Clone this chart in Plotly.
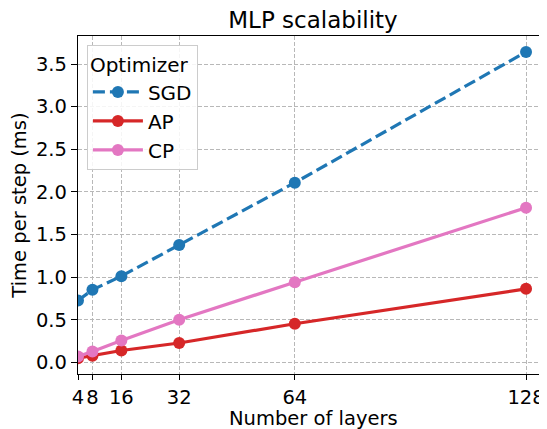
import plotly.graph_objects as go

layers = [4, 8, 16, 32, 64, 128]
sgd = [0.726, 0.852, 1.012, 1.378, 2.108, 3.642]
ap = [0.05, 0.078, 0.14, 0.228, 0.453, 0.863]
cp = [0.07, 0.128, 0.258, 0.50, 0.941, 1.815]
y_ticks = [0.0, 0.5, 1.0, 1.5, 2.0, 2.5, 3.0, 3.5]
y_tick_labels = ["0.0", "0.5", "1.0", "1.5", "2.0", "2.5", "3.0", "3.5"]
x_title = "Number of layers"
y_title = "Time per step (ms)"
chart_title = "MLP scalability"

FONT = "DejaVu Sans"

fig = go.Figure()
series = [("SGD", sgd, "#1f77b4", "12px,5px"),
          ("AP", ap, "#d62728", "solid"),
          ("CP", cp, "#e377c2", "solid")]
for name, vals, color, dash in series:
    fig.add_trace(go.Scatter(
        x=layers, y=vals, name=name, mode="lines+markers",
        line=dict(color=color, width=3.2, dash=dash),
        marker=dict(color=color, size=12),
    ))

# page body has an 8px margin, so the figure is 8px smaller and margins shifted
fig.update_layout(
    width=539, height=421,
    margin=dict(l=70, r=0, t=28, b=55, autoexpand=False),
    paper_bgcolor="white", plot_bgcolor="white",
    font=dict(family=FONT, size=19, color="black"),
    title=dict(text=chart_title, x=305 / 539, xanchor="center",
               y=0.971, yanchor="middle", font=dict(size=23)),
    legend=dict(
        title=dict(text="Optimizer ", font=dict(size=20)),
        x=0.019, y=0.972, xanchor="left", yanchor="top",
        bgcolor="rgba(255,255,255,0.85)", bordercolor="#cccccc", borderwidth=1,
        font=dict(size=20), itemwidth=50, tracegroupgap=0,
    ),
    showlegend=True,
)
fig.update_xaxes(
    range=[4, 133.8], tickvals=layers, ticktext=[str(v) for v in layers],
    showline=True, linecolor="black", linewidth=1.3, mirror=True,
    ticks="outside", ticklen=5, tickwidth=1.3, tickcolor="black",
    showgrid=True, gridcolor="#b8b8b8", gridwidth=1, griddash="4px,2px",
    zeroline=False, automargin=False,
    tickfont=dict(size=19.5),
)
fig.update_yaxes(
    range=[-0.136, 3.829], tickvals=y_ticks, ticktext=y_tick_labels,
    showline=True, linecolor="black", linewidth=1.3, mirror=False,
    ticks="outside", ticklen=6, tickwidth=1.3, tickcolor="black",
    showgrid=True, gridcolor="#b8b8b8", gridwidth=1, griddash="4px,2px",
    zeroline=False, automargin=False,
    tickfont=dict(size=19.5),
    title=dict(text=y_title, standoff=6, font=dict(size=19.5)),
)

# x-axis title placed as an annotation so it can sit lower, like the reference
fig.add_annotation(
    text=x_title, xref="paper", yref="paper", x=0.502, y=-0.132,
    xanchor="center", yanchor="middle", showarrow=False,
    font=dict(size=19.5, family=FONT, color="black"),
)

fig.write_html("out.html")
